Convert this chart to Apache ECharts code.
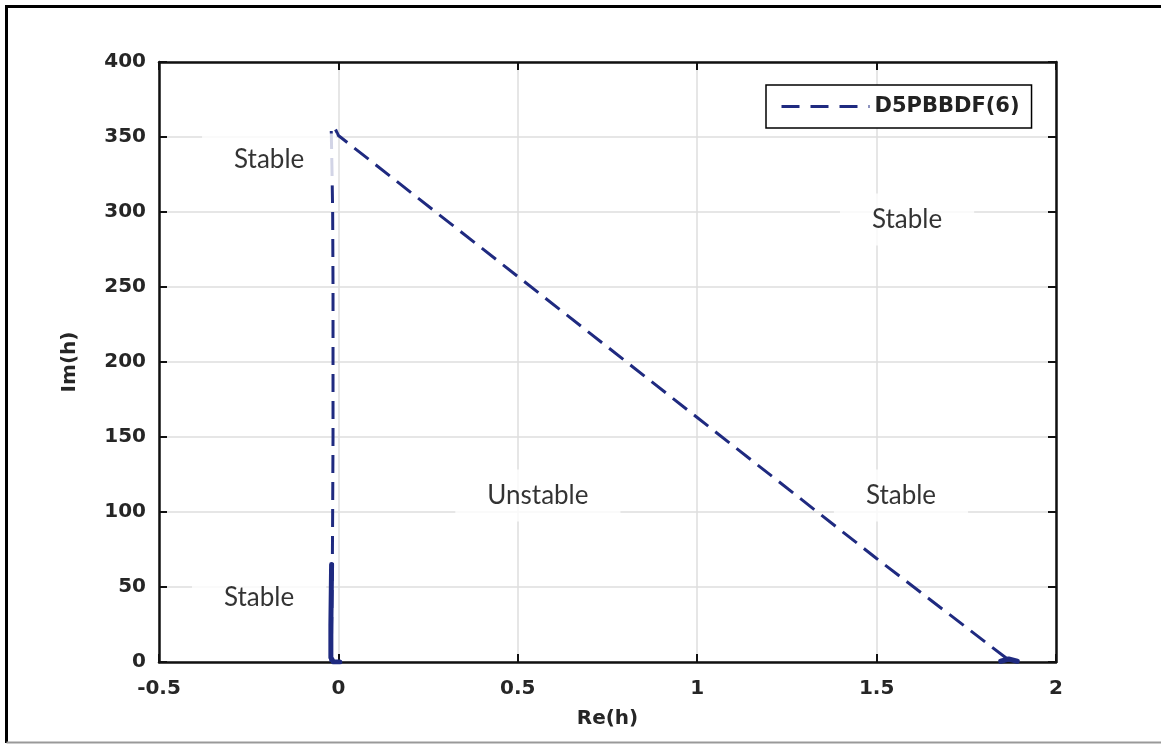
<!DOCTYPE html>
<html>
<head>
<meta charset="utf-8">
<script src="https://cdn.jsdelivr.net/npm/echarts@6/dist/echarts.min.js"></script>
<style>
  html, body { margin: 0; padding: 0; background: #fff; overflow: hidden; }
  #main { width: 1161px; height: 744px; }
</style>
</head>
<body>
<div id="main"></div>
<script>
// boundary locus D5PBBDF(6)
var locusRe = [-0.021, -0.019, -0.017, -0.016, -0.015, -0.015, -0.016, -0.018, -0.02, -0.012, 0.0, 0.5, 1.0, 1.5, 1.87];
var locusIm = [0, 20, 60, 100, 150, 250, 300, 330, 355, 357, 351, 257, 163, 69, 1];

// dense clusters of the locus near the real axis (drawn solid in the figure)
var clusterRe = [-0.019, -0.021, -0.021, -0.014, 0.004, '-', 1.846, 1.868, 1.892];
var clusterIm = [65, 25, 3, 0, 0, '-', 0.5, 2, 0.5];

// region annotations
var regionText = ['Stable', 'Unstable', 'Stable', 'Stable', 'Stable'];
var regionRe = [-0.193, 0.556, 1.585, 1.568, -0.221];
var regionIm = [335, 111, 295, 111, 43];

var xTicks = { min: -0.5, max: 2, step: 0.5 };
var yTicks = { min: 0, max: 400, step: 50 };

var seriesName = 'D5PBBDF(6)';
var lineColor = '#1f2a80';

function pairs(a, b) {
  var out = [];
  for (var i = 0; i < a.length; i++) {
    out.push(a[i] === '-' ? '-' : [a[i], b[i]]);
  }
  return out;
}

var annotations = [];
for (var i = 0; i < regionText.length; i++) {
  annotations.push({ name: regionText[i], value: [regionRe[i], regionIm[i]] });
}

var tickFont = { fontFamily: 'DejaVu Sans', fontWeight: 'bold', fontSize: 20, color: '#262626' };

var chart = echarts.init(document.getElementById('main'), null, { renderer: 'canvas' });

var option = {
  animation: false,
  backgroundColor: '#fff',
  // outer figure frame (top, left, bottom edges only)
  graphic: [
    { type: 'line', silent: true, shape: { x1: 6.5, y1: 6.5, x2: 1161, y2: 6.5 }, style: { stroke: '#000', lineWidth: 3 } },
    { type: 'line', silent: true, shape: { x1: 6.5, y1: 5, x2: 6.5, y2: 743 }, style: { stroke: '#000', lineWidth: 3 } },
    { type: 'line', silent: true, shape: { x1: 6.5, y1: 742.5, x2: 1161, y2: 742.5 }, style: { stroke: '#999', lineWidth: 2 } }
  ],
  grid: { left: 159, right: 105, top: 62, bottom: 82 },
  legend: {
    data: [seriesName],
    left: 766,
    top: 85,
    padding: [11, 12, 11, 14],
    itemWidth: 88,
    itemHeight: 14,
    itemGap: 8,
    borderColor: '#000',
    borderWidth: 1.5,
    backgroundColor: '#fff',
    itemStyle: { opacity: 0 },
    lineStyle: { type: [18, 11], width: 3 },
    textStyle: { fontFamily: 'DejaVu Sans', fontWeight: 'bold', fontSize: 21, color: '#222' }
  },
  xAxis: [{
    type: 'value',
    min: xTicks.min, max: xTicks.max, interval: xTicks.step,
    name: 'Re(h)',
    nameLocation: 'middle',
    nameGap: 47,
    nameTextStyle: { fontFamily: 'DejaVu Sans', fontWeight: 'bold', fontSize: 20, color: '#262626' },
    axisLine: { show: true, onZero: false, lineStyle: { color: '#111', width: 2.5 } },
    axisTick: { show: true, inside: true, length: 8, lineStyle: { color: '#111', width: 2 } },
    axisLabel: Object.assign({ margin: 17 }, tickFont),
    splitLine: { show: true, lineStyle: { color: '#dedede', width: 1.5 } }
  }, {
    type: 'value',
    position: 'top',
    min: xTicks.min, max: xTicks.max, interval: xTicks.step,
    axisLine: { show: true, onZero: false, lineStyle: { color: '#111', width: 2.5 } },
    axisTick: { show: true, inside: true, length: 8, lineStyle: { color: '#111', width: 2 } },
    axisLabel: { show: false },
    splitLine: { show: false }
  }],
  yAxis: [{
    type: 'value',
    min: yTicks.min, max: yTicks.max, interval: yTicks.step,
    name: 'Im(h)',
    nameLocation: 'middle',
    nameGap: 79,
    nameTextStyle: { fontFamily: 'DejaVu Sans', fontWeight: 'bold', fontSize: 20, color: '#262626' },
    axisLine: { show: true, onZero: false, lineStyle: { color: '#111', width: 2.5 } },
    axisTick: { show: true, inside: true, length: 8, lineStyle: { color: '#111', width: 2 } },
    axisLabel: Object.assign({ margin: 13 }, tickFont),
    splitLine: { show: true, lineStyle: { color: '#dedede', width: 1.5 } }
  }, {
    type: 'value',
    position: 'right',
    min: yTicks.min, max: yTicks.max, interval: yTicks.step,
    axisLine: { show: true, onZero: false, lineStyle: { color: '#111', width: 2.5 } },
    axisTick: { show: true, inside: true, length: 8, lineStyle: { color: '#111', width: 2 } },
    axisLabel: { show: false },
    splitLine: { show: false }
  }],
  series: [{
    name: seriesName,
    type: 'line',
    symbol: 'none',
    z: 3,
    color: lineColor,
    lineStyle: { color: lineColor, width: 3, type: [18, 9] },
    data: pairs(locusRe, locusIm)
  }, {
    name: 'cluster',
    type: 'line',
    symbol: 'none',
    z: 3,
    connectNulls: false,
    color: lineColor,
    lineStyle: { color: lineColor, width: 5, cap: 'round', join: 'round' },
    data: pairs(clusterRe, clusterIm)
  }, {
    name: 'regions',
    type: 'scatter',
    symbolSize: 0,
    z: 10,
    silent: true,
    label: {
      show: true,
      position: 'inside',
      formatter: '{b}',
      fontFamily: 'Lato',
      fontSize: 26,
      color: '#000',
      backgroundColor: '#fff',
      padding: [13, 32]
    },
    data: annotations
  }]
};

chart.setOption(option);
</script>
</body>
</html>
